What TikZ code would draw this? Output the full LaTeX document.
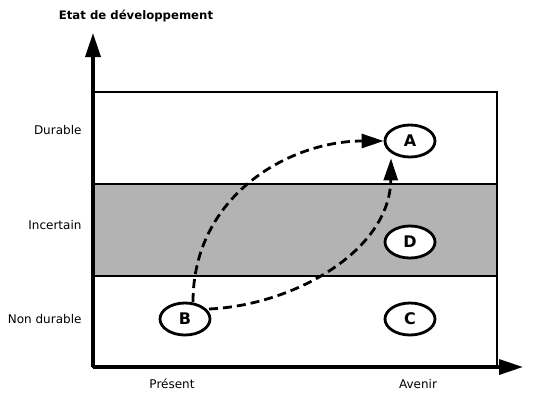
\documentclass[tikz,border=0pt]{standalone}
\usepackage{fontspec}
\setmainfont{DejaVu Sans}
\usetikzlibrary{arrows.meta,shapes.geometric}
\definecolor{bandgray}{RGB}{179,179,179}
\tikzset{
  axis/.style={line width=3.4pt,-{Triangle[length=24pt,width=15pt]}},
  state/.style={ellipse,draw,line width=2.8pt,fill=white,inner sep=0pt,
    minimum width=50pt,minimum height=32pt,font=\bfseries\fontsize{16}{18}\selectfont},
  level/.style={anchor=east,font=\fontsize{12}{14}\selectfont},
  time/.style={anchor=center,font=\fontsize{12}{14}\selectfont},
  path/.style={line width=2.8pt,dash pattern=on 9pt off 5pt,-{Triangle[length=22pt,width=14pt]}},
}
\begin{document}
\begin{tikzpicture}[x=1pt,y=-1pt]
  \useasboundingbox (0,0) rectangle (534,394);
  % zones of the state space
  \draw[line width=1.4pt] (93,92) rectangle (497,367);
  \fill[bandgray] (93,184) rectangle (497,276);
  \draw[line width=2.2pt] (93,184) -- (497,184);
  \draw[line width=2.2pt] (93,276) -- (497,276);
  \draw[line width=1.4pt] (497,184) -- (497,276);
  % axes
  \coordinate (O) at (93,367);
  \coordinate (ytop) at (93,33);
  \coordinate (xend) at (523,367);
  \draw[axis] (O) -- (ytop);
  \draw[axis] (O) -- (xend);
  \node[font=\bfseries\fontsize{11.7}{14}\selectfont] (title) at (136,16) {Etat de développement};
  % level labels
  \node[level] (durable) at (85,130) {Durable};
  \node[level] (incertain) at (85,225) {Incertain};
  \node[level] (nondurable) at (85,319) {Non durable};
  % time labels
  \node[time] (present) at (172,384) {Présent};
  \node[time] (avenir) at (418,384) {Avenir};
  % states
  \node[state] (A) at (410,141) {A};
  \node[state] (D) at (410,242) {D};
  \node[state] (B) at (185,319) {B};
  \node[state] (C) at (410,319) {C};
  % transitions
  \coordinate (b1) at (193,302);
  \coordinate (b2) at (209,309);
  \draw[path] (b1) .. controls (193,195) and (290,141) .. (A.west);
  \draw[path] (b2) .. controls (295,305) and (390,250) .. ([xshift=-19pt]A.south);
\end{tikzpicture}
\end{document}
